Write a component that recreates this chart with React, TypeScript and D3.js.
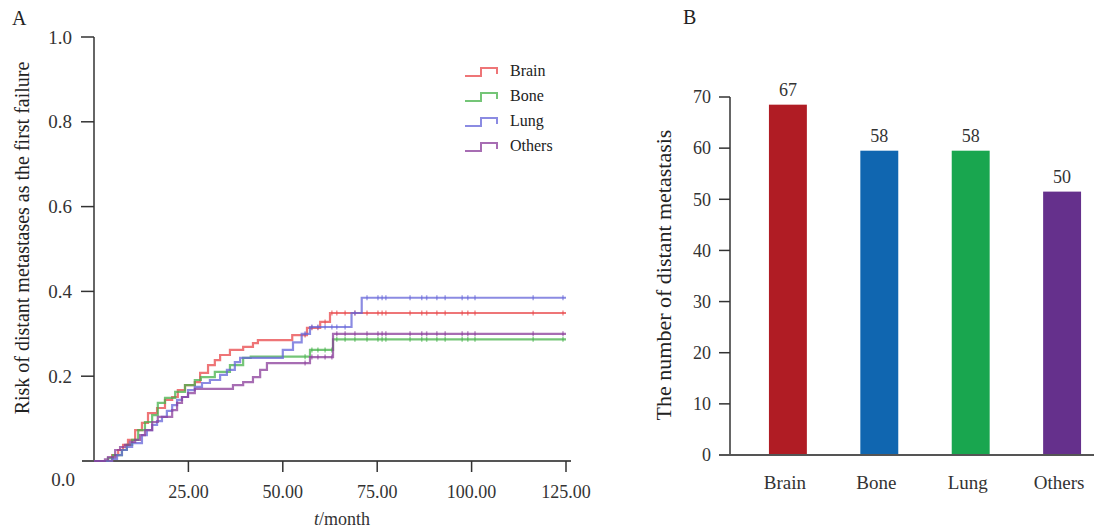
import React from 'react'
import * as d3 from 'd3'

// panel A: cumulative risk of distant metastasis, step curves [month, risk]
const brainSteps: [number, number][] = [
  [0, 0], [2.9, 0], [4.8, 0.014], [6.4, 0.026], [7.7, 0.038], [9.0, 0.05], [10.9, 0.073],
  [12.7, 0.09], [14.3, 0.113], [16.7, 0.125], [18.8, 0.144], [20.7, 0.151], [22.2, 0.167],
  [24.1, 0.179], [26.7, 0.186], [28.1, 0.208], [30.2, 0.226], [32.0, 0.238], [33.4, 0.25],
  [36.0, 0.262], [39.5, 0.269], [42.1, 0.278], [43.4, 0.285], [52.5, 0.297], [56.4, 0.314],
  [59.9, 0.328], [62.5, 0.349], [125, 0.349],
]
const boneSteps: [number, number][] = [
  [0, 0], [3.7, 0.007], [5.0, 0.014], [7.4, 0.026], [8.7, 0.038], [10.1, 0.05], [11.7, 0.073],
  [13.5, 0.092], [15.4, 0.108], [16.9, 0.137], [18.8, 0.149], [21.5, 0.163], [24.1, 0.179],
  [26.7, 0.191], [28.3, 0.198], [32.0, 0.21], [36.0, 0.226], [39.5, 0.243], [41.5, 0.246],
  [57.2, 0.262], [63.3, 0.287], [125, 0.287],
]
const lungSteps: [number, number][] = [
  [0, 0], [4.8, 0.005], [6.1, 0.014], [7.4, 0.026], [8.7, 0.033], [10.1, 0.042], [12.7, 0.061],
  [14.0, 0.073], [15.4, 0.085], [16.7, 0.094], [18.0, 0.104], [19.3, 0.118], [20.7, 0.132],
  [22.0, 0.144], [23.3, 0.151], [24.9, 0.167], [26.7, 0.175], [28.6, 0.184], [30.7, 0.191],
  [33.4, 0.203], [35.2, 0.215], [37.3, 0.233], [38.7, 0.243], [50.0, 0.262], [52.7, 0.28],
  [55.0, 0.3], [57.2, 0.316], [68.2, 0.349], [70.9, 0.385], [125, 0.385],
]
const otherSteps: [number, number][] = [
  [0, 0], [2.9, 0.004], [3.7, 0.009], [5.6, 0.026], [6.9, 0.033], [8.2, 0.038], [9.5, 0.045],
  [10.9, 0.05], [12.2, 0.061], [13.5, 0.073], [15.4, 0.092], [16.9, 0.104], [20.7, 0.12],
  [22.0, 0.137], [23.3, 0.151], [24.9, 0.16], [26.7, 0.17], [36.8, 0.179], [39.5, 0.186],
  [42.1, 0.198], [44.0, 0.215], [45.8, 0.231], [57.2, 0.245], [63.3, 0.3], [125, 0.3],
]
// censor marks (months)
const censorTimes = [55.9, 57.7, 59.3, 61.2, 63.0, 64.3, 66.5, 69.1, 72.3, 75.2, 76.3, 77.3,
  83.7, 86.8, 88.1, 90.8, 93.0, 97.5, 99.0, 100.9, 116.3, 124.2]
const monthTicks = [25, 50, 75, 100, 125]
const riskTicks = [0.2, 0.4, 0.6, 0.8, 1.0]

// panel B
const sites = ['Brain', 'Bone', 'Lung', 'Others']
const siteCounts = [67, 58, 58, 50]
const barHeights = [68.5, 59.5, 59.5, 51.5] // bar tops as drawn in the figure
const countTicks = [0, 10, 20, 30, 40, 50, 60, 70]

const curves = [
  { name: 'Brain', steps: brainSteps, color: '#e8474a' },
  { name: 'Bone', steps: boneSteps, color: '#45b24a' },
  { name: 'Lung', steps: lungSteps, color: '#6464d8' },
  { name: 'Others', steps: otherSteps, color: '#8a3c9a' },
]
const barColors = ['#b01c24', '#1066b0', '#19a64f', '#65308c']

const font = '"Liberation Serif", "DejaVu Serif", serif'

export default function App() {
  // scales for A
  const x = d3.scaleLinear().domain([0, 125]).range([94, 566])
  const y = d3.scaleLinear().domain([0, 1]).range([461, 37])
  const line = d3.line<[number, number]>()
    .x(d => x(d[0]))
    .y(d => y(d[1]))
    .curve(d3.curveStepAfter)

  const valueAt = (steps: [number, number][], t: number) => {
    let v = 0
    steps.forEach(s => { if (s[0] <= t) v = s[1] })
    return v
  }

  // scales for B
  const xb = d3.scaleBand().domain(sites).range([730, 1120]).paddingInner(0.585).paddingOuter(0.426)
  const yb = d3.scaleLinear().domain([0, 70]).range([455, 97])

  return (
    <svg width={1094} height={531} style={{ position: 'absolute', left: 0, top: 0, background: '#fff' }}
      fontFamily={font}>
      {/* ---- panel A ---- */}
      <text x={12} y={25} fontSize={20} fill="#222">A</text>
      <text transform="translate(29,238) rotate(-90)" textAnchor="middle"
        fontSize={20} fill="#222">Risk of distant metastases as the first failure</text>

      {/* y axis */}
      <line x1={x(0)} x2={x(0)} y1={y(1)} y2={y(0)} stroke="#333" strokeWidth={1.5} />
      {riskTicks.map(t => (
        <g key={t}>
          <line x1={x(0) - 13} x2={x(0)} y1={y(t)} y2={y(t)} stroke="#333" strokeWidth={1.5} />
          <text x={72} y={y(t)} dy="0.35em" textAnchor="end" fontSize={19} fill="#333">{t.toFixed(1)}</text>
        </g>
      ))}
      <text x={75} y={486} textAnchor="end" fontSize={19} fill="#333">0.0</text>

      {/* x axis */}
      <line x1={82} x2={571} y1={y(0)} y2={y(0)} stroke="#555" strokeWidth={2} />
      {monthTicks.map(t => (
        <g key={t}>
          <line x1={x(t)} x2={x(t)} y1={y(0)} y2={y(0) + 11} stroke="#333" strokeWidth={1.5} />
          <text x={x(t)} y={498} textAnchor="middle" fontSize={18} fill="#333">{t.toFixed(2)}</text>
        </g>
      ))}
      <text x={342} y={525} textAnchor="middle" fontSize={18} fill="#333">
        <tspan fontStyle="italic">t</tspan>/month
      </text>

      {/* curves */}
      {curves.map(c => (
        <g key={c.name}>
          <path d={line(c.steps) || ''} fill="none" stroke={c.color} strokeWidth={2.2} strokeOpacity={0.75} />
          {censorTimes.map(t => (
            <line key={t} x1={x(t)} x2={x(t)} y1={y(valueAt(c.steps, t)) - 2.5} y2={y(valueAt(c.steps, t)) + 2.5}
              stroke={c.color} strokeWidth={1.5} strokeOpacity={0.6} />
          ))}
        </g>
      ))}

      {/* legend */}
      {curves.map((c, i) => {
        const ly = 76 + i * 25
        return (
          <g key={c.name}>
            <path d={`M465,${ly}H481V${ly - 8}H497V${ly - 2}`} fill="none" stroke={c.color}
              strokeWidth={2} strokeOpacity={0.75} />
            <text x={510} y={ly} fontSize={16} fill="#222">{c.name}</text>
          </g>
        )
      })}

      {/* ---- panel B ---- */}
      <text x={683} y={24} fontSize={20} fill="#222">B</text>
      <text transform="translate(671,275) rotate(-90)" textAnchor="middle"
        fontSize={22} fill="#222">The number of distant metastasis</text>

      <line x1={730} x2={730} y1={yb(70)} y2={yb(0)} stroke="#333" strokeWidth={1.5} />
      {countTicks.map(t => (
        <g key={t}>
          <line x1={719} x2={730} y1={yb(t)} y2={yb(t)} stroke="#333" strokeWidth={1.5} />
          <text x={711} y={yb(t)} dy="0.35em" textAnchor="end" fontSize={18} fill="#333">{t}</text>
        </g>
      ))}

      {sites.map((s, i) => (
        <g key={s}>
          <rect x={xb(s)} y={yb(barHeights[i])} width={xb.bandwidth()} height={yb(0) - yb(barHeights[i])}
            fill={barColors[i]} />
          <text x={(xb(s) || 0) + xb.bandwidth() / 2} y={yb(barHeights[i]) - 9} textAnchor="middle"
            fontSize={18} fill="#333">{siteCounts[i]}</text>
          <text x={(xb(s) || 0) + xb.bandwidth() / 2 - 3} y={489} textAnchor="middle" fontSize={19}
            fill="#333">{s}</text>
        </g>
      ))}
      <line x1={719} x2={1094} y1={yb(0)} y2={yb(0)} stroke="#555" strokeWidth={2} />
    </svg>
  )
}
